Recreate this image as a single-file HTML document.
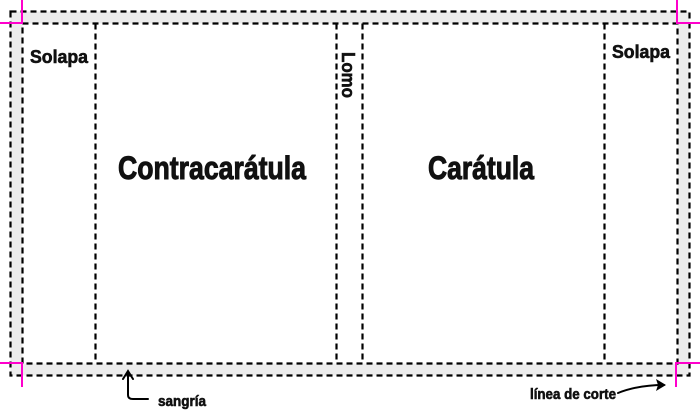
<!DOCTYPE html>
<html><head><meta charset="utf-8"><style>
html,body{margin:0;padding:0;background:#fff;}
svg text{font-family:"Liberation Sans Narrow","Liberation Sans",sans-serif;font-weight:bold;fill:#111;stroke:#111;stroke-width:0.6;}
</style></head><body>
<svg width="700" height="415" viewBox="0 0 700 415" xmlns="http://www.w3.org/2000/svg">
<path d="M10.5,11.5H689.5V375.5H10.5Z M22.5,23.5V363.5H677.5V23.5Z" fill="#ececec" fill-rule="evenodd"/>
<g fill="none" stroke="#000" stroke-width="2.2" stroke-dasharray="6,4">
<rect x="10.5" y="11.5" width="679" height="364"/>
<rect x="22.5" y="23.5" width="655" height="340"/>
<line x1="95.5" y1="23.5" x2="95.5" y2="363.5"/>
<line x1="336.5" y1="23.5" x2="336.5" y2="363.5"/>
<line x1="362.5" y1="23.5" x2="362.5" y2="363.5"/>
<line x1="604.5" y1="23.5" x2="604.5" y2="363.5"/>
</g>
<g stroke="#ff00cc" stroke-width="2" fill="none">
<path d="M22,0V23H0"/>
<path d="M677,0V23H700"/>
<path d="M0,363H22V387"/>
<path d="M676,387V363H700"/>
</g>
<text x="59" y="63" font-size="18" text-anchor="middle" textLength="58" lengthAdjust="spacingAndGlyphs">Solapa</text>
<text x="641" y="58" font-size="18" text-anchor="middle" textLength="58" lengthAdjust="spacingAndGlyphs">Solapa</text>
<text x="212" y="179" font-size="32" text-anchor="middle" textLength="188" lengthAdjust="spacingAndGlyphs" style="stroke-width:1">Contracarátula</text>
<text x="481" y="179" font-size="32" text-anchor="middle" textLength="106" lengthAdjust="spacingAndGlyphs" style="stroke-width:1">Carátula</text>
<text transform="translate(342,75) rotate(90)" font-size="18" text-anchor="middle" textLength="46" lengthAdjust="spacingAndGlyphs">Lomo</text>
<text x="158" y="406" font-size="15" textLength="48" lengthAdjust="spacingAndGlyphs">sangría</text>
<text x="530" y="399" font-size="15" textLength="86" lengthAdjust="spacingAndGlyphs">línea de corte</text>
<g fill="none" stroke="#000" stroke-width="2" stroke-linecap="round">
<path d="M128,372V395Q128,399 133,399H148"/>
<path d="M123,379L128,371L133,379"/>
<path d="M618,393Q638,385 664,385"/>
</g>
<path d="M666,385L656,379L658,385L656,391Z" fill="#000"/>
</svg>
</body></html>
